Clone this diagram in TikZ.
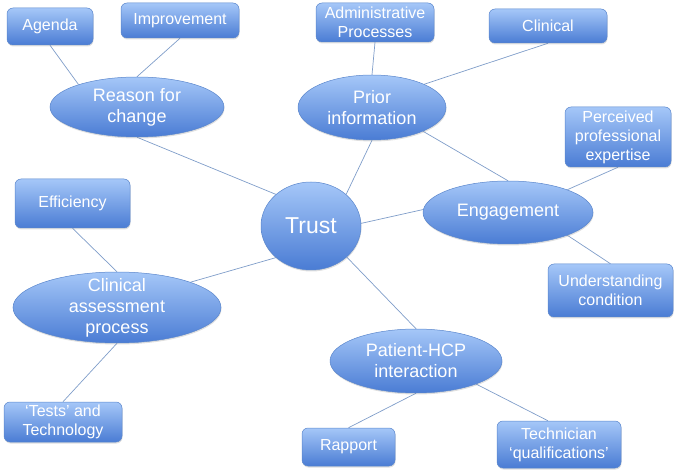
\documentclass[tikz,border=0pt]{standalone}
\usepackage{fontspec}
\setmainfont{Liberation Sans}
\usetikzlibrary{shapes.geometric,shadows}
\definecolor{ctop}{HTML}{A5C7F8}
\definecolor{cbot}{HTML}{4A7CD4}
\definecolor{bord}{HTML}{5A86CC}
\definecolor{lnk}{HTML}{7F9DC9}
\pgfdeclarelayer{bg}\pgfsetlayers{bg,main}
\begin{document}
\begin{tikzpicture}[x=1pt,y=-1pt,
  bub/.style={top color=ctop,bottom color=cbot,draw=bord,line width=0.5pt,inner sep=0pt,
    drop shadow={shadow xshift=0.5pt,shadow yshift=-1.5pt,opacity=0.25}},
  bx/.style={bub,rectangle,rounded corners=6pt},
  el/.style={bub,ellipse},
  bt/.style={text=white,align=center,inner sep=0pt,font=\fontsize{16}{19}\selectfont},
  et/.style={text=white,align=center,inner sep=0pt,font=\fontsize{18}{21}\selectfont},
  tt/.style={text=white,align=center,inner sep=0pt,font=\fontsize{23}{26}\selectfont},
  lk/.style={draw=lnk,line width=0.7pt}]
\useasboundingbox (0,0) rectangle (675,470);

% boxes
\node[bx,minimum width=86pt,minimum height=37pt,label={[bt]center:Agenda}] (agenda) at (50,26.5) {};
\node[bx,minimum width=118pt,minimum height=35pt,label={[bt]center:Improvement}] (improvement) at (180,20.5) {};
\node[bx,minimum width=118pt,minimum height=39pt,label={[bt]center:{Administrative\\Processes}}] (admin) at (375,22.5) {};
\node[bx,minimum width=118pt,minimum height=34pt,label={[bt]center:Clinical}] (clinical) at (548,26) {};
\node[bx,minimum width=106pt,minimum height=60pt,label={[bt]center:{Perceived\\professional\\expertise}}] (perceived) at (618,137) {};
\node[bx,minimum width=115pt,minimum height=49pt,label={[bt]center:Efficiency}] (efficiency) at (72.5,203.5) {};
\node[bx,minimum width=125pt,minimum height=53pt,label={[bt]center:{Understanding\\condition}}] (understanding) at (610.5,290.5) {};
\node[bx,minimum width=118pt,minimum height=40pt,label={[bt]center:{‘Tests’ and\\Technology}}] (tests) at (63,422) {};
\node[bx,minimum width=93pt,minimum height=38pt,label={[bt]center:Rapport}] (rapport) at (348.5,447) {};
\node[bx,minimum width=124pt,minimum height=47pt,label={[bt]center:{Technician\\‘qualifications’}}] (technician) at (559,444.5) {};

% ellipses
\node[el,minimum width=174pt,minimum height=60pt,label={[et]center:{Reason for\\change}}] (reason) at (137,107) {};
\node[el,minimum width=148pt,minimum height=65pt,label={[et]center:{Prior\\information}}] (prior) at (372,107.5) {};
\node[el,minimum width=100pt,minimum height=88pt,label={[tt]center:Trust}] (trust) at (311,226) {};
\node[el,minimum width=170pt,minimum height=63pt,label={[et]center:Engagement}] (engagement) at (508,212.5) {};
\node[el,minimum width=208pt,minimum height=71pt,label={[et]center:{Clinical\\assessment\\process}}] (cap) at (117,307.5) {};
\node[el,minimum width=172pt,minimum height=64pt,label={[et]center:{Patient-HCP\\interaction}}] (patient) at (416,361) {};

% connectors
\begin{pgfonlayer}{bg}
\draw[lk] (agenda.south) -- (reason.159);
\draw[lk] (improvement.south) -- (reason.north);
\draw[lk] (reason.south) -- (trust.138);
\draw[lk] (admin.south) -- (prior.north);
\draw[lk] (clinical.south) -- (prior.24);
\draw[lk] (prior.south) -- (trust.42);
\draw[lk] (prior.335) -- (engagement.north);
\draw[lk] (perceived.south) -- (engagement.21);
\draw[lk] (engagement.339) -- (understanding.north);
\draw[lk] (trust.3) -- (engagement.178);
\draw[lk] (trust.319) -- (patient.north);
\draw[lk] (patient.south) -- (rapport.north);
\draw[lk] (patient.339) -- (technician.115);
\draw[lk] (efficiency.south) -- (cap.north);
\draw[lk] (cap.19) -- (trust.222);
\draw[lk] (cap.south) -- (tests.north);
\end{pgfonlayer}
\end{tikzpicture}
\end{document}
